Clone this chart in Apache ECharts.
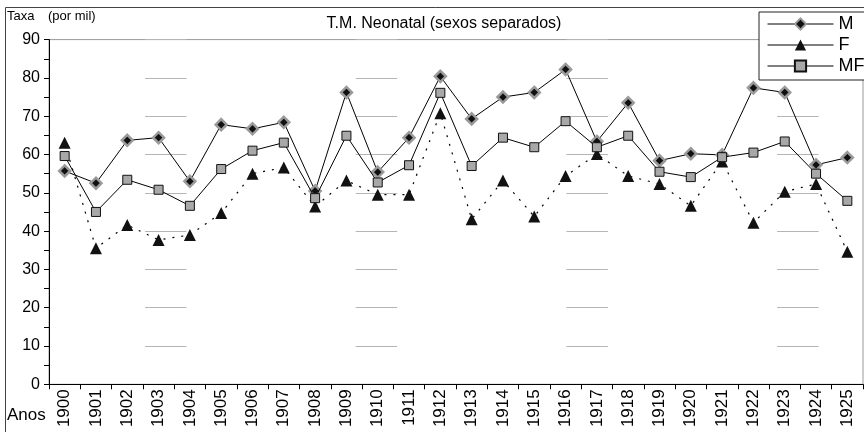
<!DOCTYPE html>
<html>
<head>
<meta charset="utf-8">
<script src="https://cdn.jsdelivr.net/npm/echarts@6/dist/echarts.min.js"></script>
<style>
html,body{margin:0;padding:0;background:#fff;}
#chart{width:864px;height:432px;}
</style>
</head>
<body>
<div id="chart"></div>
<script>
const years = ['1900','1901','1902','1903','1904','1905','1906','1907','1908','1909','1910','1911','1912','1913','1914','1915','1916','1917','1918','1919','1920','1921','1922','1923','1924','1925'];
const valuesM  = [55.7, 52.5, 63.7, 64.4, 53.0, 67.8, 66.7, 68.4, 50.5, 76.2, 55.4, 64.4, 80.4, 69.3, 75.0, 76.2, 82.2, 63.4, 73.5, 58.4, 60.2, 59.9, 77.4, 76.2, 57.3, 59.2];
const valuesF  = [63.1, 35.5, 41.6, 37.7, 39.0, 44.7, 55.0, 56.6, 46.4, 53.2, 49.5, 49.5, 70.8, 43.1, 53.2, 43.8, 54.4, 60.1, 54.4, 52.3, 46.6, 58.2, 42.2, 50.3, 52.3, 34.6];
const valuesMF = [59.6, 45.0, 53.4, 50.8, 46.6, 56.2, 61.0, 63.1, 48.6, 64.9, 52.7, 57.2, 76.1, 57.0, 64.4, 61.9, 68.7, 61.9, 64.9, 55.5, 54.1, 59.3, 60.5, 63.4, 55.0, 47.9];
const yTicks = {min: 0, max: 90, interval: 10};

const FONT = 'Liberation Sans, Arial, sans-serif';
const chart = echarts.init(document.getElementById('chart'), null, {renderer: 'canvas'});
chart.setOption({
  animation: false,
  backgroundColor: '#fff',
  textStyle: {fontFamily: FONT},
  title: {
    text: 'T.M. Neonatal (sexos separados)',
    left: 439, top: 11, textAlign: 'center',
    textStyle: {fontFamily: FONT, fontSize: 16, fontWeight: 'normal', color: '#000'}
  },
  graphic: [
    {type: 'rect', shape: {x: 5.5, y: 7.5, width: 900, height: 500}, style: {fill: 'none', stroke: '#444', lineWidth: 1}, silent: true, z: 0},
    {type: 'text', left: 7, top: 10, style: {text: 'Taxa', font: '13px ' + FONT, fill: '#000'}},
    {type: 'text', left: 48, top: 10, style: {text: '(por mil)', font: '13px ' + FONT, fill: '#000'}},
    {type: 'text', left: 7, top: 407, style: {text: 'Anos', font: '17px ' + FONT, fill: '#000'}}
  ],
  legend: {
    orient: 'vertical',
    left: 759, top: 12,
    padding: [2, 8, 4, 8],
    itemWidth: 66, itemHeight: 14, itemGap: 1,
    backgroundColor: '#fff',
    borderColor: '#222', borderWidth: 1, borderRadius: 0,
    textStyle: {fontFamily: FONT, fontSize: 18, lineHeight: 20, color: '#000'},
    lineStyle: {type: 'solid', width: 1, color: '#000'},
    data: ['M', 'F', 'MF']
  },
  grid: {
    left: 49, right: 1, top: 39.6, bottom: 47.7,
    show: true, borderColor: '#999', borderWidth: 1
  },
  xAxis: {
    type: 'category',
    data: years,
    boundaryGap: true,
    axisLine: {lineStyle: {color: '#000', width: 1}},
    axisTick: {show: true, length: 5, lineStyle: {color: '#000'}},
    axisLabel: {rotate: 90, fontSize: 17, margin: 5, color: '#000', fontFamily: FONT, interval: 0},
    splitLine: {show: false}
  },
  yAxis: {
    type: 'value',
    min: yTicks.min, max: yTicks.max, interval: yTicks.interval,
    axisLine: {show: true, lineStyle: {color: '#000', width: 1}},
    axisTick: {show: true, length: 5, lineStyle: {color: '#000'}},
    minorTick: {show: true, splitNumber: 2, length: 5, lineStyle: {color: '#000'}},
    axisLabel: {fontSize: 16, margin: 9, color: '#000', fontFamily: FONT},
    splitLine: {show: true, lineStyle: {color: '#b5b5b5', width: 1, type: [41.5, 169.2], dashOffset: 114.7}}
  },
  series: [
    {
      name: 'M', type: 'line', data: valuesM,
      symbol: 'diamond', symbolSize: 11,
      lineStyle: {color: '#000', width: 1},
      itemStyle: {color: '#111', borderColor: '#9a9a9a', borderWidth: 2.5},
      z: 3
    },
    {
      name: 'F', type: 'line', data: valuesF,
      symbol: 'triangle', symbolSize: 12,
      lineStyle: {color: '#000', width: 1.2, type: [2, 7]},
      itemStyle: {color: '#111', borderColor: '#111', borderWidth: 0},
      z: 2
    },
    {
      name: 'MF', type: 'line', data: valuesMF,
      symbol: 'rect', symbolSize: 9,
      lineStyle: {color: '#000', width: 1},
      itemStyle: {color: '#a8a8a8', borderColor: '#111', borderWidth: 1},
      z: 4
    }
  ]
});
</script>
</body>
</html>
